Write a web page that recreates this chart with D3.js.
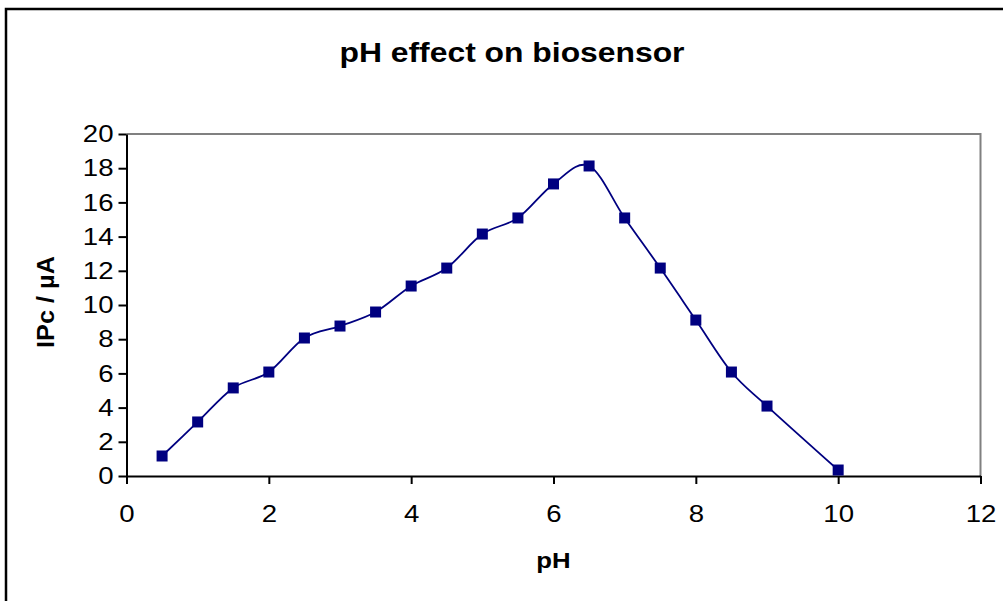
<!DOCTYPE html>
<html>
<head>
<meta charset="utf-8">
<script src="https://cdn.jsdelivr.net/npm/d3@7"></script>
<style>
  body { margin: 0; background: #fff; }
  svg { display: block; font-family: "Liberation Sans", Arial, sans-serif; }
</style>
</head>
<body>
<div id="chart-container"></div>
<script>
// pH values and measured peak current (IPc / µA)
const phValues = [0.5, 1, 1.5, 2, 2.5, 3, 3.5, 4, 4.5, 5, 5.5, 6, 6.5, 7, 7.5, 8, 8.5, 9, 10];
const currentValues = [1.17, 3.16, 5.15, 6.08, 8.07, 8.77, 9.59, 11.11, 12.16, 14.15, 15.09, 17.08, 18.13, 15.09, 12.16, 9.12, 6.08, 4.09, 0.35];
const xTicks = [0, 2, 4, 6, 8, 10, 12];
const yTicks = [0, 2, 4, 6, 8, 10, 12, 14, 16, 18, 20];

const data = phValues.map((p, i) => ({ ph: p, ipc: currentValues[i] }));

const W = 1003, H = 601;
const margin = { top: 134, right: 22.5, bottom: 125, left: 126.5 };
const width = W - margin.left - margin.right;
const height = H - margin.top - margin.bottom;
// the picture's text is a bit wider than the font
const stretch = 1.15;

const svg = d3.select("#chart-container")
  .append("svg")
  .attr("width", W)
  .attr("height", H);

// outer chart border (right/bottom run off the picture)
svg.append("rect")
  .attr("x", 6).attr("y", 9)
  .attr("width", W + 20).attr("height", H + 20)
  .attr("fill", "#fff")
  .attr("stroke", "#000")
  .attr("stroke-width", 2.5);

const g = svg.append("g").attr("transform", `translate(${margin.left},${margin.top})`);

const x = d3.scaleLinear().domain([0, 12]).range([0, width]);
const y = d3.scaleLinear().domain([0, 20]).range([height, 0]);

// plot area top/right border in gray
g.append("path")
  .attr("d", `M0,0H${width}V${height}`)
  .attr("fill", "none")
  .attr("stroke", "#808080")
  .attr("stroke-width", 2);

// axes
const xAxis = g.append("g")
  .attr("transform", `translate(0,${height})`)
  .call(d3.axisBottom(x).tickValues(xTicks).tickSize(8).tickPadding(21).tickSizeOuter(0));
const yAxis = g.append("g")
  .call(d3.axisLeft(y).tickValues(yTicks).tickSize(8).tickPadding(5).tickSizeOuter(0));

[xAxis, yAxis].forEach(a => {
  a.selectAll("path, line").attr("stroke", "#000").attr("stroke-width", 2);
  a.selectAll("text")
    .attr("fill", "#000")
    .style("font-size", "24px")
    .style("font-family", "'Liberation Sans', Arial, sans-serif");
});
xAxis.selectAll("text").attr("transform", `scale(${stretch},1)`);
yAxis.selectAll("text").attr("x", 0).attr("transform", `translate(-13,0) scale(${stretch},1)`);

// smoothed line like the spreadsheet
const line = d3.line()
  .x(d => x(d.ph))
  .y(d => y(d.ipc))
  .curve(d3.curveCatmullRom.alpha(0));

g.append("path")
  .datum(data)
  .attr("d", line)
  .attr("fill", "none")
  .attr("stroke", "#000080")
  .attr("stroke-width", 1.8);

const ms = 11;
g.selectAll(".marker")
  .data(data)
  .join("rect")
  .attr("class", "marker")
  .attr("x", d => x(d.ph) - ms / 2)
  .attr("y", d => y(d.ipc) - ms / 2)
  .attr("width", ms)
  .attr("height", ms)
  .attr("fill", "#000080");

// titles
svg.append("text")
  .attr("transform", `translate(512,61.5) scale(1.18,1)`)
  .attr("text-anchor", "middle")
  .style("font-size", "27px").style("font-weight", "bold")
  .text("pH effect on biosensor");

svg.append("text")
  .attr("transform", `translate(${margin.left + width / 2},568) scale(1.12,1)`)
  .attr("text-anchor", "middle")
  .style("font-size", "23px").style("font-weight", "bold")
  .text("pH");

svg.append("text")
  .attr("transform", `translate(54,302) rotate(-90) scale(1.1,1)`)
  .attr("text-anchor", "middle")
  .style("font-size", "23px").style("font-weight", "bold")
  .text("IPc / µA");
</script>
</body>
</html>
